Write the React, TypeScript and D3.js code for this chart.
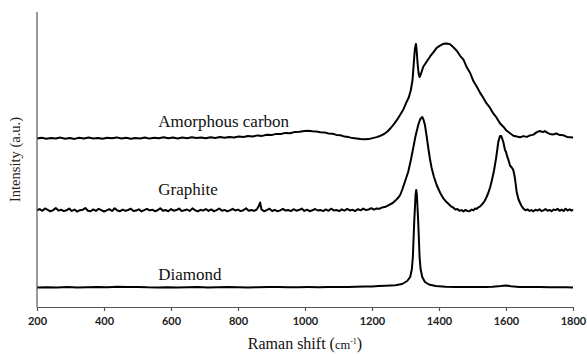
import React, { useRef, useEffect } from 'react';
import * as d3 from 'd3';

// Raman shift tick values (cm-1)
const xTicks = [200, 400, 600, 800, 1000, 1200, 1400, 1600, 1800];
const seriesNames = ['Amorphous carbon', 'Graphite', 'Diamond'];

// [raman shift, intensity (a.u., stacked)]
const amorphous: [number, number][] = [
  [200, 168.6], [214, 169.3], [228, 168.2], [242, 169.1], [256, 168.5], [270, 169.4], [284, 168.3],
  [298, 168.9], [312, 168.1], [326, 169.2], [340, 168.6], [354, 169.5], [368, 168.6], [382, 169.1],
  [396, 168.2], [410, 169.3], [424, 168.7], [438, 169.6], [452, 168.5], [466, 169.2], [480, 168.3],
  [494, 169.1], [508, 168.6], [522, 169.5], [536, 168.4], [550, 169.3], [564, 168.7], [578, 169.7],
  [592, 168.8], [606, 169.4], [620, 168.5], [634, 169.5], [648, 168.8], [662, 169.7], [676, 168.9],
  [690, 169.6], [704, 168.7], [718, 169.8], [732, 169.0], [746, 169.9], [760, 169.2], [774, 170.1],
  [788, 169.5], [802, 170.4], [816, 169.9], [830, 170.9], [844, 170.5], [858, 171.6], [872, 171.1],
  [886, 172.3], [900, 171.9], [914, 173.1], [928, 173.0], [942, 174.1], [956, 173.8], [970, 175.1],
  [984, 175.2], [998, 176.1], [1010, 176.3], [1022, 175.7], [1034, 175.6], [1046, 174.7], [1058, 174.6],
  [1070, 173.5], [1082, 173.3], [1094, 172.1], [1106, 171.7], [1118, 170.4], [1130, 169.9], [1142, 168.9],
  [1154, 168.5], [1166, 167.9], [1178, 167.7], [1190, 167.9], [1202, 168.9], [1214, 169.9], [1226, 171.3],
  [1236, 173.0], [1246, 175.5], [1256, 179], [1266, 183.2], [1276, 187.8], [1286, 193.2], [1294, 197.8],
  [1302, 204.2], [1310, 209.8], [1316, 217], [1321, 227], [1325, 245], [1328, 258], [1331, 263],
  [1333, 258], [1336, 244], [1339, 234], [1342, 230], [1346, 233], [1353, 240.3], [1363, 245.2],
  [1373, 250.3], [1383, 254.7], [1393, 259.2], [1403, 261.3], [1413, 263.2], [1423, 263.4], [1433, 262.7],
  [1443, 259.8], [1453, 256.3], [1463, 251.2], [1473, 247.3], [1483, 239.7], [1493, 234.0], [1503, 225.7],
  [1513, 220.3], [1522, 214.6], [1532, 209.3], [1542, 203.6], [1552, 199.3], [1562, 193.6], [1572, 189.3],
  [1582, 183.7], [1592, 180.3], [1602, 176.2], [1612, 173.8], [1622, 171.3], [1632, 170.5], [1642, 169.8],
  [1652, 170.9], [1662, 170.1], [1672, 171.6], [1682, 172.4], [1692, 174.9], [1701, 176], [1710, 174.9],
  [1716, 175.9], [1724, 174.1], [1731, 173.1], [1740, 172.5], [1750, 173.5], [1761, 171.9], [1772, 171.7],
  [1782, 170.1], [1791, 169.8], [1800, 169.4],
];

const graphite: [number, number][] = [
  [200, 96.8], [208, 97.9], [216, 96.2], [224, 98.6], [232, 97.1], [240, 95.6], [248, 96.9], [256, 98.9],
  [264, 96.4], [272, 97.3], [280, 95.9], [288, 96.7], [296, 98.4], [304, 96.0], [312, 97.5], [320, 95.4],
  [328, 96.8], [336, 97.2], [344, 99.0], [352, 96.3], [360, 95.7], [368, 97.6], [376, 96.1], [384, 98.2],
  [392, 96.9], [400, 95.5], [408, 96.6], [416, 97.8], [424, 96.0], [432, 98.7], [440, 96.5], [448, 95.8],
  [456, 97.4], [464, 96.2], [472, 97.0], [480, 98.3], [488, 95.9], [496, 96.4], [504, 97.7], [512, 95.6],
  [520, 96.9], [528, 98.1], [536, 96.6], [544, 97.3], [552, 95.8], [560, 96.7], [568, 98.8], [576, 96.2],
  [584, 97.0], [592, 95.7], [600, 97.9], [608, 96.3], [616, 96.9], [624, 98.4], [632, 95.9], [640, 96.8],
  [648, 97.5], [656, 96.0], [664, 98.6], [672, 96.7], [680, 95.6], [688, 97.2], [696, 96.4], [704, 98.0],
  [712, 96.1], [720, 97.6], [728, 95.8], [736, 96.9], [744, 98.5], [752, 96.3], [760, 97.1], [768, 95.7],
  [776, 96.6], [784, 98.2], [792, 96.5], [800, 97.4], [808, 95.9], [816, 96.8], [824, 98.7], [832, 96.2],
  [840, 97.0], [848, 96.1], [856, 97.5], [862, 101], [866, 104.5], [870, 97.5], [878, 95.8], [886, 96.9],
  [894, 98.3], [902, 96.0], [910, 97.2], [918, 95.7], [926, 96.6], [934, 98.1], [942, 96.4], [950, 97.0],
  [958, 95.9], [966, 97.8], [974, 96.3], [982, 96.9], [990, 98.4], [998, 96.1], [1006, 97.3], [1014, 95.8],
  [1022, 96.7], [1030, 98.0], [1038, 96.5], [1046, 97.1], [1054, 95.9], [1062, 97.6], [1070, 96.2],
  [1078, 98.3], [1086, 96.6], [1094, 97.0], [1102, 95.9], [1110, 97.7], [1118, 96.4], [1126, 98.1],
  [1134, 96.6], [1142, 97.2], [1150, 96.0], [1158, 97.9], [1166, 96.7], [1174, 98.4], [1182, 96.9],
  [1190, 97.5], [1198, 98.8], [1206, 97.3], [1214, 98.6], [1222, 98.2], [1230, 99.6], [1238, 99.9],
  [1246, 101.2], [1254, 102.6], [1262, 104], [1270, 106.4], [1278, 109.2], [1284, 112], [1290, 117],
  [1296, 123], [1302, 129], [1308, 135], [1316, 147], [1323, 159], [1330, 171], [1338, 182], [1344, 188],
  [1350, 190], [1354, 187], [1358, 182], [1363, 171], [1368, 159], [1373, 148], [1378, 139], [1385, 130],
  [1393, 122], [1403, 114.5], [1413, 108.6], [1420, 105.8], [1428, 103.2], [1436, 100.6], [1443, 99.3],
  [1449, 97.4], [1455, 98.1], [1461, 96.3], [1467, 96.9], [1473, 95.6], [1479, 97.1], [1485, 96.0],
  [1491, 95.8], [1497, 97.4], [1503, 96.8], [1508, 98.6], [1512, 98.1], [1517, 99.6], [1522, 100.4],
  [1527, 102.1], [1532, 104], [1537, 106.5], [1542, 110], [1547, 114], [1552, 119], [1556, 124],
  [1560, 130], [1564, 136], [1567, 142], [1570, 148], [1573, 155], [1577, 165], [1582, 171], [1586, 171],
  [1589, 168], [1592, 165], [1597, 157], [1600, 155], [1602, 152.5], [1605, 149], [1607, 147.5],
  [1612, 141.5], [1617, 139.5], [1620, 138], [1622, 136.5], [1625, 132], [1627, 128], [1630, 120],
  [1632, 115], [1637, 108], [1642, 104], [1647, 100.8], [1652, 98.4], [1658, 96.8], [1664, 97.6],
  [1670, 96.1], [1676, 96.9], [1682, 95.7], [1688, 97.3], [1694, 96.4], [1700, 97.8], [1706, 95.9],
  [1712, 96.6], [1718, 98.0], [1724, 96.3], [1730, 97.1], [1736, 95.8], [1742, 97.5], [1748, 96.9],
  [1754, 98.2], [1760, 96.2], [1766, 97.4], [1772, 96.0], [1778, 98.3], [1784, 96.5], [1790, 97.7],
  [1796, 96.4], [1800, 97.6],
];

const diamond: [number, number][] = [
  [200, 19.5], [230, 19.8], [260, 19.5], [290, 19.9], [320, 19.6], [350, 19.8], [380, 20.0], [410, 19.7],
  [440, 20.3], [470, 19.9], [500, 20.1], [530, 19.7], [560, 19.6], [590, 19.8], [620, 19.5], [650, 19.8],
  [680, 19.9], [710, 19.6], [740, 19.7], [770, 19.9], [800, 19.8], [830, 19.6], [860, 19.7], [890, 19.9],
  [920, 20.0], [950, 19.7], [980, 19.8], [1010, 19.9], [1040, 19.8], [1070, 20.0], [1100, 20.1],
  [1130, 20.0], [1150, 20.3], [1180, 20.4], [1200, 20.6], [1220, 20.9], [1240, 21.2], [1270, 21.8],
  [1290, 23], [1305, 26], [1314, 30], [1319, 38], [1322, 50], [1326, 85], [1330, 112], [1332, 117],
  [1334, 112], [1338, 85], [1342, 50], [1345, 38], [1350, 30], [1358, 25], [1370, 22.5], [1390, 21],
  [1420, 20.3], [1450, 20.1], [1470, 20], [1500, 20.1], [1520, 19.9], [1540, 20.1], [1560, 20.3],
  [1585, 20.9], [1600, 21.4], [1615, 20.8], [1640, 20.1], [1670, 20.0], [1700, 19.9], [1730, 19.8],
  [1760, 19.7], [1780, 19.8], [1800, 19.5],
];

const W = 587;
const H = 354;
const margin = { top: 12, right: 14, bottom: 47, left: 37 };
// where the series names sit (shift, intensity)
const labelShift = 562;
const labelLevels = [180.3, 112, 27.5];

const App = () => {
  const svgRef = useRef<SVGSVGElement>(null);

  useEffect(() => {
    const svg = d3.select(svgRef.current);
    svg.selectAll('*').remove();

    const x = d3.scaleLinear().domain([200, 1800]).range([margin.left, W - margin.right]);
    const y = d3.scaleLinear().domain([0, 295]).range([H - margin.bottom, margin.top]);

    const line = d3.line<[number, number]>()
      .x((d) => x(d[0]))
      .y((d) => y(d[1]))
      .curve(d3.curveLinear);

    const series = [amorphous, graphite, diamond];
    svg.append('g')
      .selectAll('path')
      .data(series)
      .enter()
      .append('path')
      .attr('d', (d) => line(d))
      .attr('fill', 'none')
      .attr('stroke', '#000')
      .attr('stroke-width', 2)
      .attr('stroke-linejoin', 'round');

    svg.append('g')
      .selectAll('text')
      .data(seriesNames)
      .enter()
      .append('text')
      .attr('x', x(labelShift))
      .attr('y', (_, i) => y(labelLevels[i]))
      .style('font-family', '"Liberation Serif", "Times New Roman", serif')
      .style('font-size', '17px')
      .style('fill', '#111')
      .text((d) => d);

    // x axis
    const xAxis = svg.append('g')
      .attr('transform', `translate(0, ${H - margin.bottom})`)
      .call(d3.axisBottom(x).tickValues(xTicks).tickSizeInner(4).tickSizeOuter(0).tickPadding(6).tickFormat(d3.format('d')));
    xAxis.select('.domain').attr('stroke', '#555').attr('stroke-width', 1.2);
    xAxis.selectAll('.tick line').attr('stroke', '#555').attr('stroke-width', 1.2);
    xAxis.selectAll('.tick text')
      .style('font-family', 'Lato, "Open Sans", sans-serif')
      .style('font-size', '11px')
      .style('font-weight', 'bold')
      .style('fill', '#222');

    // y axis (bare line)
    svg.append('line')
      .attr('x1', margin.left).attr('x2', margin.left)
      .attr('y1', margin.top).attr('y2', H - margin.bottom)
      .attr('stroke', '#555').attr('stroke-width', 1.2);

    const title = svg.append('text')
      .attr('x', (margin.left + W - margin.right) / 2)
      .attr('y', 349)
      .attr('text-anchor', 'middle')
      .style('font-family', '"Liberation Serif", "Times New Roman", serif')
      .style('font-size', '16px')
      .style('fill', '#111');
    title.append('tspan').text('Raman shift (');
    title.append('tspan').style('font-size', '12.5px').text('cm');
    title.append('tspan').style('font-size', '8px').attr('dy', -5).text('-1');
    title.append('tspan').attr('dy', 5).text(')');

    svg.append('text')
      .attr('transform', `translate(19.5, ${(margin.top + H - margin.bottom) / 2}) rotate(-90)`)
      .attr('text-anchor', 'middle')
      .style('font-family', '"Liberation Serif", "Times New Roman", serif')
      .style('font-size', '14.5px')
      .style('fill', '#2b2118')
      .text('Intensity (a.u.)');
  }, []);

  return (
    <svg
      ref={svgRef}
      width={W}
      height={H}
      style={{ position: 'absolute', left: 0, top: 0, background: '#fff', display: 'block' }}
    />
  );
};

export default App;
